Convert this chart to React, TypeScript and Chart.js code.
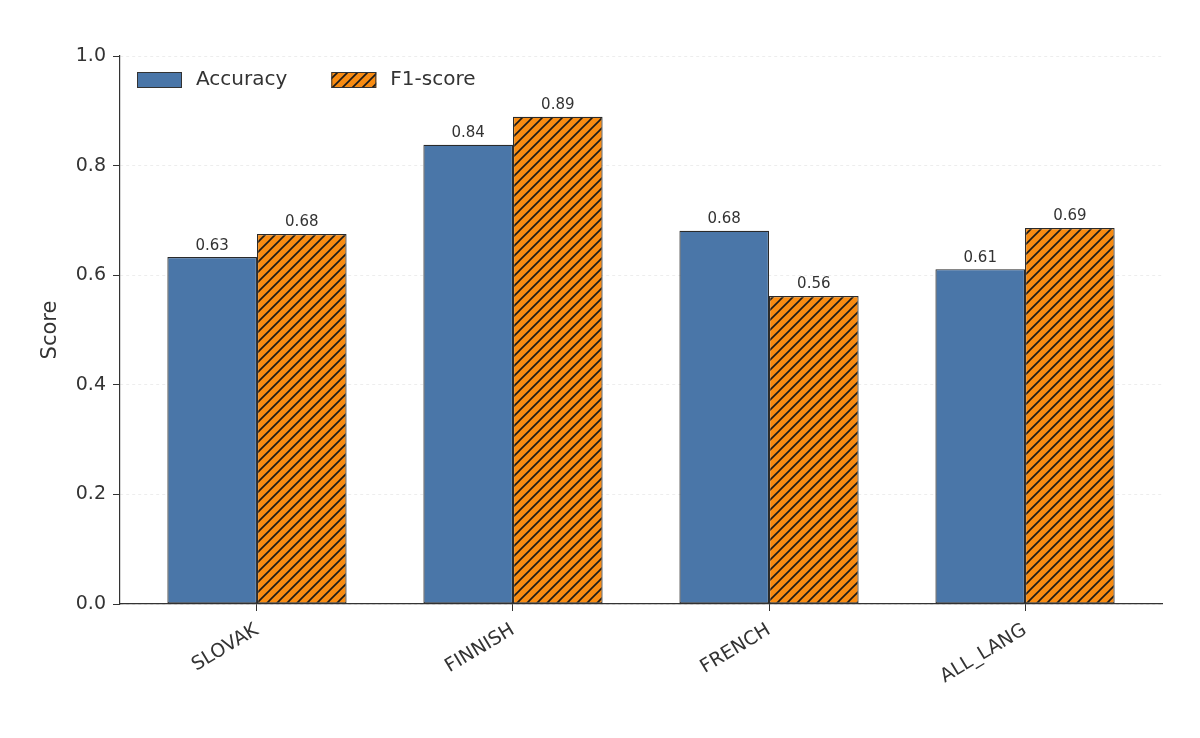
import { useEffect, useRef } from "react";
import { Chart, registerables } from "chart.js";

Chart.register(...registerables);

const categories = ["SLOVAK", "FINNISH", "FRENCH", "ALL_LANG"];
const accuracy = [0.633, 0.838, 0.681, 0.611];
const f1Score = [0.675, 0.889, 0.562, 0.686];
const seriesLabels = ["Accuracy", "F1-score"];

const BLUE = "#4a76a8";
const ORANGE = "#f78b12";
const FONT = "'DejaVu Sans', sans-serif";

// diagonal "///" hatch on orange
function makeHatch(): CanvasPattern | string {
  const size = 10;
  const c = document.createElement("canvas");
  c.width = size;
  c.height = size;
  const ctx = c.getContext("2d");
  if (!ctx) return ORANGE;
  ctx.fillStyle = ORANGE;
  ctx.fillRect(0, 0, size, size);
  ctx.strokeStyle = "#1a1a1a";
  ctx.lineWidth = 1.6;
  ctx.beginPath();
  ctx.moveTo(-2, size + 2);
  ctx.lineTo(size + 2, -2);
  ctx.moveTo(-size / 2 - 2, size / 2 + 2);
  ctx.lineTo(size / 2 + 2, -size / 2 - 2);
  ctx.moveTo(size / 2 - 2, size * 1.5 + 2);
  ctx.lineTo(size * 1.5 + 2, size / 2 - 2);
  ctx.stroke();
  return ctx.createPattern(c, "repeat") || ORANGE;
}

const valueLabels = {
  id: "valueLabels",
  afterDatasetsDraw(chart: any) {
    const { ctx } = chart;
    ctx.save();
    ctx.font = `15px ${FONT}`;
    ctx.fillStyle = "#333";
    ctx.textAlign = "center";
    ctx.textBaseline = "bottom";
    chart.data.datasets.forEach((ds: any, i: number) => {
      const meta = chart.getDatasetMeta(i);
      meta.data.forEach((el: any, j: number) => {
        ctx.fillText(ds.data[j].y.toFixed(2), el.x, el.y - 4);
      });
    });
    ctx.restore();
  },
};

const insideLegend = {
  id: "insideLegend",
  afterDraw(chart: any) {
    const { ctx, chartArea } = chart;
    ctx.save();
    ctx.font = `20px ${FONT}`;
    ctx.textBaseline = "middle";
    ctx.textAlign = "left";
    let x = chartArea.left + 17;
    const y = chartArea.top + 16;
    chart.data.datasets.forEach((ds: any) => {
      ctx.fillStyle = ds.backgroundColor;
      ctx.fillRect(x, y, 45, 16);
      ctx.strokeStyle = "#333";
      ctx.lineWidth = 1;
      ctx.strokeRect(x + 0.5, y + 0.5, 44, 15);
      ctx.fillStyle = "#333";
      ctx.fillText(ds.label, x + 59, y + 8);
      x += 59 + ctx.measureText(ds.label).width + 44;
    });
    ctx.restore();
  },
};

export default function App() {
  const canvasRef = useRef<HTMLCanvasElement | null>(null);

  useEffect(() => {
    document.body.style.margin = "0";
    if (!canvasRef.current) return;
    const hatch = makeHatch();
    const chart = new Chart(canvasRef.current, {
      type: "bar",
      data: {
        datasets: [
          {
            label: seriesLabels[0],
            data: accuracy.map((v, i) => ({ x: i, y: v })),
            backgroundColor: BLUE,
            borderColor: "#2a2a2a",
            borderWidth: 1.2,
            borderSkipped: false,
            categoryPercentage: 0.7,
            barPercentage: 1,
          },
          {
            label: seriesLabels[1],
            data: f1Score.map((v, i) => ({ x: i, y: v })),
            backgroundColor: hatch as any,
            borderColor: "#2a2a2a",
            borderWidth: 1.2,
            borderSkipped: false,
            categoryPercentage: 0.7,
            barPercentage: 1,
          },
        ],
      },
      options: {
        responsive: false,
        animation: false,
        layout: { padding: { top: 56, right: 38, left: 36, bottom: 0 } },
        plugins: { legend: { display: false }, tooltip: { enabled: false } },
        scales: {
          x: {
            type: "linear",
            min: -0.535,
            max: 3.535,
            offset: false,
            grid: {
              offset: false,
              drawOnChartArea: false,
              drawTicks: true,
              tickLength: 7,
              tickColor: "#333",
            },
            border: { color: "#333", width: 1.2 },
            ticks: {
              stepSize: 1,
              includeBounds: false,
              autoSkip: false,
              maxRotation: 31,
              minRotation: 31,
              padding: 8,
              color: "#333",
              font: { family: FONT, size: 19 },
              callback: (v: any) =>
                Number.isInteger(v) && categories[v] !== undefined ? categories[v] : "",
            },
            afterFit: (scale: any) => {
              scale.height = 134;
            },
          },
          y: {
            min: 0,
            max: 1,
            grid: {
              color: "rgba(0,0,0,0.07)",
              tickColor: "#333",
              tickLength: 7,
            },
            border: { color: "#333", width: 1.2, dash: [3, 3] },
            ticks: {
              stepSize: 0.2,
              color: "#333",
              padding: 7,
              font: { family: FONT, size: 19 },
              callback: (v: any) => Number(v).toFixed(1),
            },
            title: {
              display: true,
              text: "Score",
              color: "#333",
              font: { family: FONT, size: 21 },
              padding: { top: 2, bottom: 4 },
            },
            afterFit: (scale: any) => {
              scale.width = 84;
            },
          },
        },
      },
      plugins: [valueLabels, insideLegend],
    });
    return () => chart.destroy();
  }, []);

  return (
    <div style={{ width: 1200, height: 738, background: "#fff" }}>
      <canvas ref={canvasRef} width={1200} height={738} />
    </div>
  );
}
